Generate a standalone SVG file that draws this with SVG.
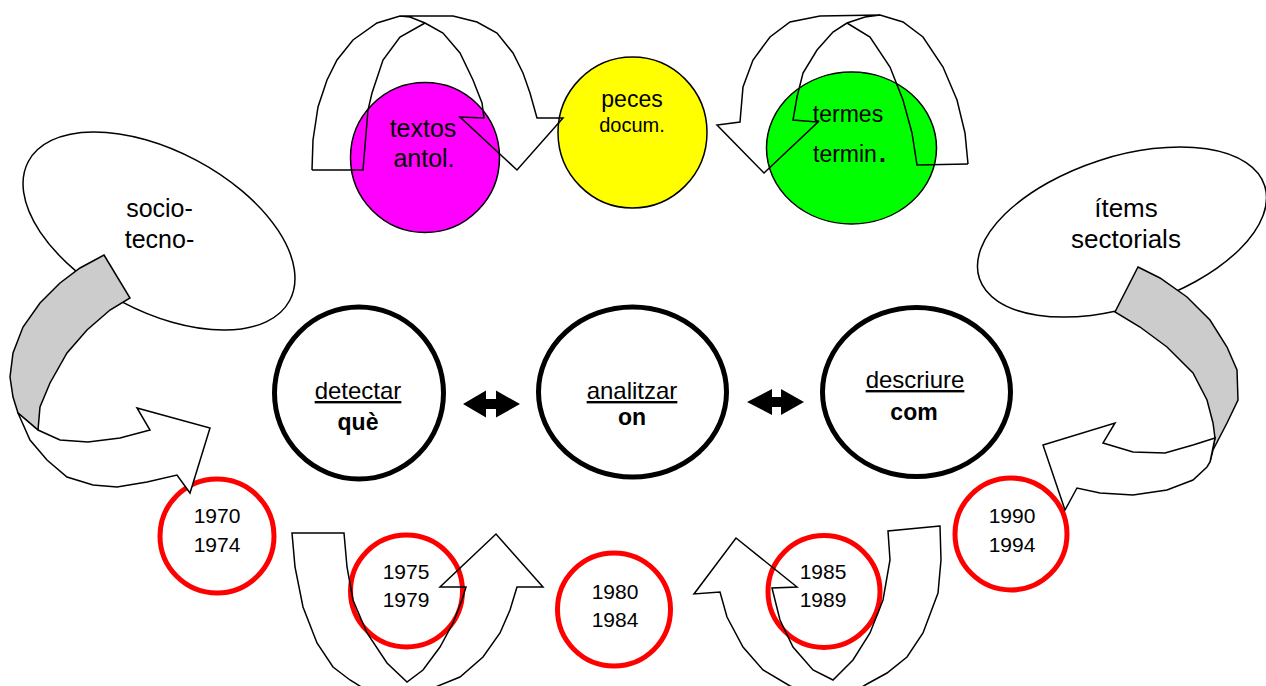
<svg xmlns="http://www.w3.org/2000/svg" width="1266" height="686" viewBox="0 0 1266 686">
<style>
  text { font-family: "Liberation Sans", Arial, sans-serif; fill: #000; }
  .lbl { font-size: 25px; text-anchor: middle; }
  .yr { font-size: 21px; text-anchor: middle; }
  .ctr { font-size: 24px; text-anchor: middle; }
  .ctrb { font-size: 23px; text-anchor: middle; font-weight: bold; }
  .bub { fill: #fff; stroke: #000; stroke-width: 1.5; }
  .top { stroke: #000; stroke-width: 1.5; }
  .ring { fill: #fff; stroke: #ff0000; stroke-width: 5; }
  .blk { fill: #fff; stroke: #000; stroke-width: 5; }
  .ln { fill: none; stroke: #000; stroke-width: 1.5; stroke-linejoin: miter; }
  .wf { fill: #fff; stroke: #000; stroke-width: 1.5; stroke-linejoin: miter; }
  .gf { fill: #cccccc; stroke: #000; stroke-width: 1.5; stroke-linejoin: miter; }
  .dbl { fill: #000; }
</style>

<g id="socio-tecno">
  <ellipse class="bub" cx="159" cy="231" rx="148" ry="80" transform="rotate(28 159 231)"/>
  <text class="lbl" x="159.5" y="217">socio-</text>
  <text class="lbl" x="159.5" y="248">tecno-</text>
</g>
<g id="items-sectorials">
  <ellipse class="bub" cx="1122" cy="232" rx="150" ry="75" transform="rotate(-18 1122 232)"/>
  <text class="lbl" x="1126" y="217" style="font-size:26px">ítems</text>
  <text class="lbl" x="1126" y="248" style="font-size:26px">sectorials</text>
</g>

<g id="textos-antol">
  <ellipse class="top" fill="#ff00ff" cx="425" cy="157.5" rx="74.5" ry="75"/>
  <text class="lbl" x="423" y="137">textos</text>
  <text class="lbl" x="424" y="167">antol.</text>
</g>
<g id="peces-docum">
  <ellipse class="top" fill="#ffff00" cx="632.5" cy="132.5" rx="74.5" ry="75.5"/>
  <text class="lbl" x="632" y="107" style="font-size:23px">peces</text>
  <text class="lbl" x="632" y="132" style="font-size:20px">docum.</text>
</g>
<g id="termes-termin">
  <ellipse class="top" fill="#00ff00" cx="851.5" cy="148" rx="85" ry="76"/>
  <text x="848" y="122" style="font-size:23px;text-anchor:middle">termes</text>
  <text x="813" y="162" style="font-size:23px">termin<tspan dx="2" font-weight="bold" font-size="25">.</tspan></text>
</g>

<g id="detectar">
  <ellipse class="blk" cx="359" cy="393" rx="84.5" ry="86"/>
  <text class="ctr" x="358" y="399" text-decoration="underline">detectar</text>
  <text class="ctrb" x="358" y="430">què</text>
</g>
<g id="analitzar">
  <ellipse class="blk" cx="632.5" cy="392" rx="94" ry="85"/>
  <text class="ctr" x="632" y="399" text-decoration="underline">analitzar</text>
  <text class="ctrb" x="632" y="425">on</text>
</g>
<g id="descriure">
  <ellipse class="blk" cx="916.5" cy="392" rx="94" ry="84.5"/>
  <text class="ctr" x="915" y="388" text-decoration="underline">descriure</text>
  <text class="ctrb" x="914" y="420">com</text>
</g>

<g id="y1970">
  <circle class="ring" cx="217" cy="536" r="57"/>
  <text class="yr" x="217" y="523">1970</text>
  <text class="yr" x="217" y="552">1974</text>
</g>
<g id="y1975">
  <circle class="ring" cx="406.5" cy="591" r="56"/>
  <text class="yr" x="406" y="579">1975</text>
  <text class="yr" x="406" y="607">1979</text>
</g>
<g id="y1980">
  <circle class="ring" cx="614" cy="609.5" r="56.5"/>
  <text class="yr" x="615" y="599">1980</text>
  <text class="yr" x="615" y="627">1984</text>
</g>
<g id="y1985">
  <circle class="ring" cx="824" cy="591.5" r="56"/>
  <text class="yr" x="823" y="579">1985</text>
  <text class="yr" x="823" y="607">1989</text>
</g>
<g id="y1990">
  <circle class="ring" cx="1011" cy="534" r="56"/>
  <text class="yr" x="1012" y="523">1990</text>
  <text class="yr" x="1012" y="552">1994</text>
</g>

<g id="connectors">
  <path class="ln" d="M312,170 L313,140 L318,107 L327,80 L337,60 L353,40 L377,23 L400,16 L453,16 L477,22 L497,33 L513,53 L523,73 L530,93 L537,118 L563,118 L517,170 L460,117 L484,118 L482,103 L473,80 L460,53 L443,33 L425,23 L410,17 L400,16"/>
  <path class="ln" d="M425,23 L400,37 L383,60 L372,93 L368,110 L363,170 L312,170"/>
  <path class="ln" d="M968,164 L965,133 L957,100 L943,67 L923,37 L903,22 L880,15 L820,16 L790,22 L770,37 L753,60 L743,87 L740,122 L717,125 L764,173 L818,122 L793,120 L797,97 L803,73 L817,50 L833,32 L847,23 L865,17 L880,15"/>
  <path class="ln" d="M847,23 L870,37 L890,67 L903,100 L912,133 L917,165 L968,164"/>

  <polygon class="dbl" points="463,404 486,390.5 486,399 496,399 496,390.5 520,404 496,417.5 496,409 486,409 486,417.5"/>
  <polygon class="dbl" points="747,402 772,389 772,397 781,397 781,389 804,402 781,415 781,407 772,407 772,415"/>

  <path class="ln" d="M292,533 L344,533 L347,567 L353,600 L367,633 L387,663 L407,682 L423,670 L440,647 L453,623 L462,600 L466,587 L440,587 L496,534 L543,587 L517,587 L510,610 L500,633 L483,657 L460,677 L433,688 L410,696 L385,696 L363,688 L350,680 L333,667 L317,643 L303,607 L295,567 Z"/>
  <path class="ln" d="M940,526 L888,531 L890,560 L883,600 L870,633 L853,660 L833,680 L813,670 L793,647 L780,620 L772,588 L797,587 L736,538 L694,594 L720,592 L727,617 L743,647 L763,670 L790,686 L820,696 L850,694 L867,684 L887,673 L907,657 L923,633 L938,593 L941,560 Z"/>

  <polygon class="gf" points="104,255 130,298 110,310 87,330 67,353 50,383 40,407 38,430 18,413 13,397 10,377 13,353 23,327 40,303 60,283 80,268"/>
  <polygon class="wf" points="18,413 30,440 47,460 67,477 93,485 117,487 147,482 177,475 190,493 210,428 137,408 150,430 120,438 88,442 60,440 38,430"/>

  <polygon class="gf" points="1138,267 1160,278 1187,297 1210,320 1227,347 1237,370 1238,400 1227,423 1213,450 1210,462 1215,438 1213,423 1207,400 1193,373 1167,347 1140,327 1115,312"/>
  <polygon class="wf" points="1215,438 1193,445 1165,453 1133,452 1103,443 1115,423 1043,445 1065,510 1077,488 1100,493 1133,495 1167,490 1193,480 1207,467 1210,462"/>
</g>
</svg>
